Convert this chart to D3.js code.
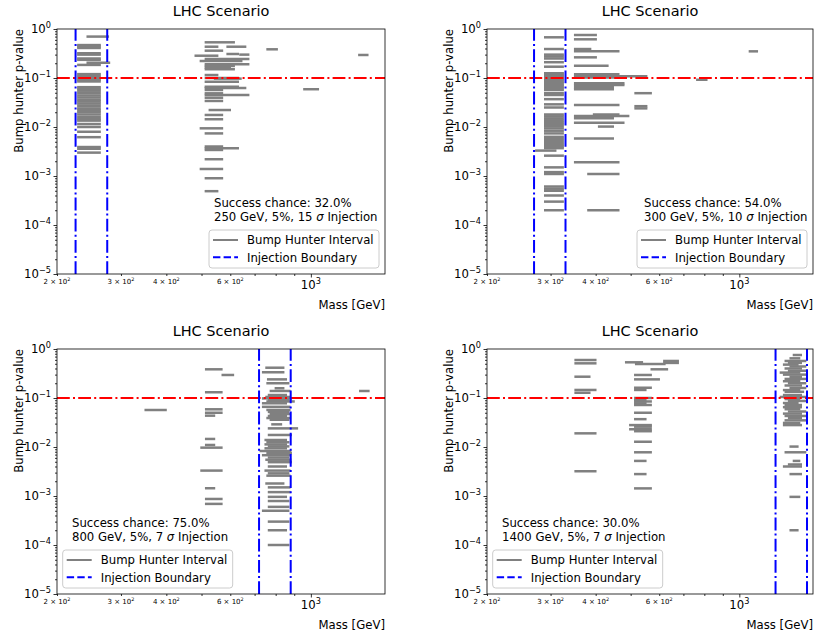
<!DOCTYPE html>
<html>
<head>
<meta charset="utf-8">
<script src="https://cdn.jsdelivr.net/npm/d3@7"></script>
<style>
  body { margin: 0; background: #fff; }
  svg { display: block; font-family: "DejaVu Sans", sans-serif; }
</style>
</head>
<body>
<svg id="fig" width="819" height="639"></svg>
<script>
// ---- data -------------------------------------------------------------
const massDomain = [200, 1600];          // GeV
const pDomain = [1e-5, 1];
const pThreshold = 0.1;
const yMajorExponents = [-5, -4, -3, -2, -1, 0];
const xMinorTicks = [200, 300, 400, 500, 600, 700, 800, 900];
const xMinorLabelled = [200, 300, 400, 600];
const xMajorTicks = [1000];

const injectionMass = [250, 300, 800, 1400];          // GeV
const injectionSigma = [15, 10, 7, 7];
const injectionWidthPct = [5, 5, 5, 5];
const successChance = [32.0, 54.0, 75.0, 30.0];       // %
const injectionWindow = [[225, 275], [270, 330], [720, 880], [1260, 1540]];

// Bump hunter intervals: [low mass, high mass, p-value]
const intervals250 = [
  [243, 276, 0.70], [229, 262, 0.47], [229, 262, 0.44], [229, 262, 0.41],
  [229, 262, 0.32], [229, 262, 0.30], [229, 262, 0.25], [229, 262, 0.235],
  [243, 278, 0.205], [229, 262, 0.185], [229, 262, 0.12], [229, 262, 0.11],
  [229, 262, 0.10], [229, 262, 0.092], [229, 262, 0.085], [229, 262, 0.065],
  [229, 262, 0.06], [229, 262, 0.055], [229, 262, 0.049], [229, 262, 0.044],
  [229, 262, 0.040], [229, 262, 0.036], [229, 262, 0.033], [229, 262, 0.030],
  [229, 262, 0.027], [229, 262, 0.024], [229, 262, 0.022], [229, 262, 0.020],
  [229, 262, 0.018], [229, 262, 0.016], [229, 262, 0.0145], [229, 262, 0.0135],
  [229, 262, 0.0115], [229, 262, 0.010], [229, 262, 0.008], [229, 262, 0.0062],
  [229, 262, 0.0039], [229, 262, 0.0036], [229, 262, 0.0030],
  [514, 613, 0.535], [514, 552, 0.435], [590, 659, 0.435], [514, 569, 0.361],
  [590, 629, 0.309], [640, 672, 0.30], [482, 552, 0.285], [514, 672, 0.244],
  [498, 643, 0.222], [514, 672, 0.19], [514, 613, 0.176], [514, 598, 0.163],
  [514, 613, 0.151], [514, 552, 0.115], [514, 629, 0.10], [545, 640, 0.097],
  [514, 629, 0.084], [514, 629, 0.066], [514, 659, 0.0625], [514, 569, 0.0569],
  [514, 569, 0.0487], [514, 672, 0.045], [514, 569, 0.0396], [514, 569, 0.034],
  [527, 598, 0.0222], [514, 569, 0.0176], [514, 569, 0.0144], [498, 569, 0.0094],
  [514, 569, 0.0074], [514, 569, 0.0040], [514, 629, 0.0037], [514, 569, 0.0034],
  [514, 569, 0.0022], [498, 569, 0.00139], [514, 569, 0.0009], [514, 552, 0.00049],
  [760, 805, 0.385], [1360, 1430, 0.295], [960, 1045, 0.059]
];

const intervals300 = [
  [290, 324, 0.677], [290, 324, 0.39], [290, 324, 0.30], [290, 324, 0.275],
  [290, 324, 0.25], [290, 324, 0.21], [290, 324, 0.17], [290, 324, 0.125],
  [290, 324, 0.117], [290, 324, 0.11], [290, 324, 0.103], [290, 324, 0.096],
  [290, 324, 0.09], [290, 324, 0.084], [290, 324, 0.078], [290, 324, 0.072],
  [290, 324, 0.067], [290, 324, 0.062], [290, 324, 0.057], [290, 324, 0.049],
  [290, 324, 0.045], [290, 324, 0.037], [290, 324, 0.029], [290, 324, 0.025],
  [290, 324, 0.018], [290, 324, 0.0165], [290, 324, 0.015], [290, 324, 0.0137],
  [290, 324, 0.0125], [290, 324, 0.0115], [290, 324, 0.0105], [290, 324, 0.0094],
  [290, 324, 0.0084], [290, 324, 0.0074], [290, 324, 0.0063], [290, 324, 0.0057],
  [290, 324, 0.0052], [290, 324, 0.0047], [290, 324, 0.0043], [290, 324, 0.0040],
  [290, 324, 0.0037], [274, 309, 0.0033], [290, 324, 0.0026], [290, 324, 0.0015],
  [290, 324, 0.0012], [290, 324, 0.0011], [290, 324, 0.00061], [290, 324, 0.00055],
  [290, 324, 0.0005], [290, 324, 0.0004], [290, 324, 0.0003], [290, 324, 0.0002],
  [351, 400, 0.754], [351, 400, 0.616], [351, 386, 0.39], [351, 462, 0.35],
  [351, 400, 0.264], [351, 431, 0.178], [351, 462, 0.119], [351, 552, 0.108],
  [351, 477, 0.102], [351, 477, 0.078], [351, 477, 0.072], [351, 446, 0.0645],
  [351, 446, 0.059], [516, 568, 0.049], [351, 462, 0.028], [516, 552, 0.0266],
  [516, 552, 0.024], [396, 462, 0.018], [351, 492, 0.0168], [351, 446, 0.015],
  [351, 477, 0.0122], [409, 446, 0.0102], [351, 446, 0.0058], [351, 462, 0.0019],
  [382, 462, 0.0011], [382, 462, 0.0002],
  [765, 810, 0.092], [1070, 1118, 0.35]
];

const intervals800 = [
  [351, 398, 0.0569],
  [515, 567, 0.385], [572, 610, 0.295], [515, 567, 0.131], [515, 567, 0.0588],
  [515, 567, 0.050], [515, 541, 0.0436], [515, 541, 0.0146], [515, 541, 0.011],
  [500, 567, 0.0097], [500, 567, 0.0033], [515, 541, 0.00144], [515, 567, 0.00087],
  [515, 567, 0.00069],
  [1368, 1440, 0.139],
  [755, 839, 0.415], [739, 839, 0.335], [763, 853, 0.24], [760, 866, 0.20],
  [801, 839, 0.158], [776, 872, 0.139], [767, 853, 0.115], [755, 872, 0.105],
  [739, 880, 0.098], [767, 866, 0.092], [760, 896, 0.085], [739, 853, 0.078],
  [739, 872, 0.066], [760, 872, 0.057], [767, 866, 0.052], [776, 872, 0.047],
  [767, 853, 0.043], [760, 872, 0.039], [776, 866, 0.036], [784, 827, 0.029],
  [767, 915, 0.024], [767, 880, 0.0176], [751, 853, 0.0139], [760, 866, 0.0125],
  [751, 853, 0.0113], [767, 866, 0.0103], [751, 853, 0.0094], [728, 877, 0.0083],
  [760, 880, 0.0075], [739, 872, 0.0068], [767, 866, 0.0061], [755, 877, 0.0055],
  [767, 880, 0.0049], [767, 853, 0.0040], [751, 872, 0.0033], [767, 866, 0.0029],
  [760, 872, 0.0026], [755, 839, 0.0018], [767, 872, 0.0015], [767, 872, 0.0012],
  [767, 853, 0.00096], [767, 866, 0.00079], [767, 866, 0.0006], [739, 866, 0.0005],
  [767, 866, 0.0003], [767, 853, 0.0002], [767, 866, 0.0001]
];

const intervals1400 = [
  [352, 399, 0.596], [352, 399, 0.51], [352, 384, 0.272], [352, 399, 0.146],
  [352, 384, 0.128], [352, 399, 0.019], [352, 399, 0.0032],
  [486, 537, 0.535], [518, 620, 0.494], [620, 675, 0.57], [620, 675, 0.52],
  [572, 630, 0.385], [515, 568, 0.295], [515, 598, 0.24], [515, 568, 0.162],
  [515, 549, 0.146], [515, 568, 0.10], [515, 549, 0.092], [515, 568, 0.085],
  [515, 549, 0.078], [515, 568, 0.072], [515, 568, 0.05], [515, 549, 0.037],
  [499, 568, 0.028], [515, 568, 0.026], [499, 568, 0.023], [515, 568, 0.021],
  [515, 568, 0.0128], [515, 568, 0.0078], [515, 549, 0.0052], [515, 549, 0.0028],
  [515, 568, 0.00143],
  [1417, 1480, 0.754], [1388, 1464, 0.645], [1345, 1521, 0.57], [1374, 1480, 0.52],
  [1331, 1448, 0.48], [1388, 1521, 0.44], [1345, 1480, 0.40], [1374, 1521, 0.36],
  [1304, 1464, 0.33], [1331, 1521, 0.30], [1388, 1480, 0.27], [1345, 1521, 0.245],
  [1331, 1464, 0.22], [1374, 1521, 0.20], [1345, 1480, 0.18], [1388, 1521, 0.16],
  [1331, 1464, 0.145], [1345, 1500, 0.134], [1331, 1480, 0.115], [1304, 1521, 0.105],
  [1345, 1464, 0.095], [1374, 1521, 0.087], [1331, 1448, 0.079], [1345, 1480, 0.072],
  [1331, 1480, 0.065], [1345, 1464, 0.059], [1374, 1521, 0.053], [1331, 1480, 0.048],
  [1345, 1521, 0.043], [1374, 1480, 0.039], [1345, 1521, 0.035], [1331, 1464, 0.031],
  [1331, 1480, 0.028], [1388, 1448, 0.0102], [1345, 1521, 0.0078], [1417, 1464, 0.0052],
  [1374, 1480, 0.0044], [1331, 1480, 0.0040], [1388, 1480, 0.0028], [1388, 1464, 0.00096],
  [1388, 1448, 0.0002]
];

const panelIntervals = [intervals250, intervals300, intervals800, intervals1400];

// ---- layout -----------------------------------------------------------
const frames = [
  { left: 57,  top: 29,  width: 328 },
  { left: 487, top: 29,  width: 326 },
  { left: 57,  top: 349, width: 328 },
  { left: 487, top: 349, width: 326 }
];
const plotH = 245;
const fs = 11.7;           // base font size
const grey = "#808080";
const dashDot = "12.8,3.2,2,3.2";
const dashed = "7.4,3.2";

const svg = d3.select("#fig");
const defs = svg.append("defs");

function powerLabel(sel, base, exp, size) {
  sel.append("tspan").text(base);
  sel.append("tspan").attr("font-size", size * 0.7).attr("dy", -size * 0.42).text(exp);
}

panelIntervals.forEach((data, i) => {
  const f = frames[i];
  const W = f.width;
  const g = svg.append("g").attr("transform", `translate(${f.left},${f.top})`);

  const x = d3.scaleLog().domain(massDomain).range([0, W]);
  const y = d3.scaleLog().domain(pDomain).range([plotH, 0]);

  defs.append("clipPath").attr("id", `clip${i}`)
    .append("rect").attr("width", W).attr("height", plotH);

  const plot = g.append("g").attr("clip-path", `url(#clip${i})`);

  // bump hunter intervals
  plot.append("g").selectAll("line").data(data).join("line")
    .attr("x1", d => x(d[0])).attr("x2", d => x(d[1]))
    .attr("y1", d => y(d[2])).attr("y2", d => y(d[2]))
    .attr("stroke", grey).attr("stroke-width", 2.5).attr("stroke-linecap", "square");

  // significance threshold
  plot.append("line")
    .attr("x1", 0).attr("x2", W)
    .attr("y1", y(pThreshold)).attr("y2", y(pThreshold))
    .attr("stroke", "#ff0000").attr("stroke-width", 2)
    .attr("stroke-dasharray", dashDot);

  // injection window boundaries
  plot.append("g").selectAll("line").data(injectionWindow[i]).join("line")
    .attr("x1", d => x(d)).attr("x2", d => x(d))
    .attr("y1", plotH).attr("y2", 0)
    .attr("stroke", "#0000ff").attr("stroke-width", 2)
    .attr("stroke-dasharray", dashDot);

  // axes (ticks only; frame drawn separately)
  const yMajor = yMajorExponents.map(e => Math.pow(10, e));
  const yMinor = [];
  yMajorExponents.slice(0, -1).forEach(e => {
    for (let k = 2; k <= 9; k++) yMinor.push(k * Math.pow(10, e));
  });

  const axY = g.append("g").call(d3.axisLeft(y).tickValues(yMajor).tickSize(3.5).tickFormat(""));
  const axYm = g.append("g").call(d3.axisLeft(y).tickValues(yMinor).tickSize(2).tickFormat(""));
  const axX = g.append("g").attr("transform", `translate(0,${plotH})`)
    .call(d3.axisBottom(x).tickValues(xMajorTicks).tickSize(3.5).tickFormat(""));
  const axXm = g.append("g").attr("transform", `translate(0,${plotH})`)
    .call(d3.axisBottom(x).tickValues(xMinorTicks).tickSize(2).tickFormat(""));
  [axY, axYm, axX, axXm].forEach(a => {
    a.select(".domain").remove();
    a.selectAll("line").attr("stroke", "#000").attr("stroke-width", 0.8);
  });

  // y tick labels
  yMajorExponents.forEach(e => {
    const t = g.append("text")
      .attr("x", -6).attr("y", y(Math.pow(10, e)) + 4.3)
      .attr("text-anchor", "end").attr("font-size", fs).attr("fill", "#000");
    powerLabel(t, "10", e === 0 ? "0" : "\u2212" + Math.abs(e), fs);
  });

  // x tick labels
  xMinorLabelled.forEach(v => {
    const t = g.append("text")
      .attr("x", x(v)).attr("y", plotH + 9.5)
      .attr("text-anchor", "middle").attr("font-size", 7).attr("fill", "#000");
    powerLabel(t, `${v / 100} \u00d7 10`, "2", 7);
  });
  xMajorTicks.forEach(v => {
    const t = g.append("text")
      .attr("x", x(v)).attr("y", plotH + 15)
      .attr("text-anchor", "middle").attr("font-size", fs).attr("fill", "#000");
    powerLabel(t, "10", "3", fs);
  });

  // frame
  g.append("rect").attr("width", W).attr("height", plotH)
    .attr("fill", "none").attr("stroke", "#000").attr("stroke-width", 0.8);

  // title and axis labels
  g.append("text").attr("x", W / 2).attr("y", -13)
    .attr("text-anchor", "middle").attr("font-size", 14.5).text("LHC Scenario");
  g.append("text").attr("x", W).attr("y", plotH + 34.5)
    .attr("text-anchor", "end").attr("font-size", fs).text("Mass [GeV]");
  g.append("text").attr("transform", "translate(-34.5,0) rotate(-90)")
    .attr("text-anchor", "end").attr("font-size", fs).text("Bump hunter p-value");

  // annotation
  const leftSide = i >= 2;
  const tx = leftSide ? 15 : 157;
  g.append("text").attr("x", tx).attr("y", 177.5).attr("font-size", fs)
    .text(`Success chance: ${successChance[i].toFixed(1)}%`);
  const t2 = g.append("text").attr("x", tx).attr("y", 192).attr("font-size", fs);
  t2.append("tspan").text(`${injectionMass[i]} GeV, ${injectionWidthPct[i]}%, ${injectionSigma[i]} `);
  t2.append("tspan").attr("font-style", "italic").text("\u03c3");
  t2.append("tspan").text(" Injection");

  // legend
  const lw = 170, lh = 38;
  const lx = leftSide ? 5.7 : W - 6 - lw;
  const ly = plotH - 6 - lh;
  const leg = g.append("g").attr("transform", `translate(${lx},${ly})`);
  leg.append("rect").attr("width", lw).attr("height", lh).attr("rx", 3)
    .attr("fill", "#fff").attr("fill-opacity", 0.8)
    .attr("stroke", "#cccccc").attr("stroke-width", 1);
  const entries = [
    { label: "Bump Hunter Interval", color: grey, dash: null },
    { label: "Injection Boundary", color: "#0000ff", dash: dashed }
  ];
  entries.forEach((en, k) => {
    const cy = 10 + k * 17.3;
    leg.append("line").attr("x1", 4).attr("x2", 29).attr("y1", cy).attr("y2", cy)
      .attr("stroke", en.color).attr("stroke-width", 2)
      .attr("stroke-dasharray", en.dash);
    leg.append("text").attr("x", 38).attr("y", cy + 4.3).attr("font-size", fs).text(en.label);
  });
});
</script>
</body>
</html>
